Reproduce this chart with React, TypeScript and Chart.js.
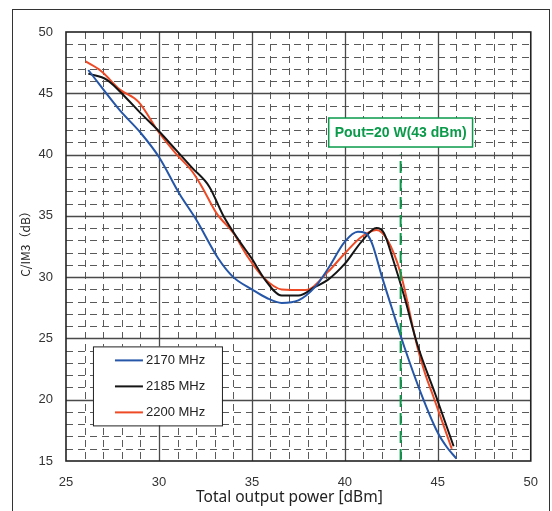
import React, { useEffect, useRef } from "react";
import { Chart, registerables } from "chart.js";

Chart.register(...registerables);

const X_MIN = 25;
const X_MAX = 50;
const Y_MIN = 15;
const Y_MAX = 50;

const seriesNames = ["2170 MHz", "2185 MHz", "2200 MHz"];
const seriesColors = ["#2556a8", "#151515", "#ee4a25"];

const x2170 = [26.2, 27.9, 29.0, 30.0, 31.1, 32.0, 33.2, 34.0, 35.0, 35.8, 36.6, 37.5, 38.4, 39.1, 40.0, 40.7, 41.1, 41.45, 42.0, 42.5, 43.2, 44.1, 45.0, 45.5, 46.0];
const y2170 = [46.9, 43.6, 41.8, 39.8, 36.8, 34.7, 31.5, 30.0, 29.0, 28.3, 27.9, 28.1, 29.2, 30.7, 32.9, 33.7, 33.6, 32.8, 30.0, 27.6, 24.3, 20.5, 17.3, 16.1, 15.2];

const x2185 = [26.2, 27.2, 28.25, 29.0, 30.0, 30.9, 31.8, 32.7, 33.5, 34.3, 35.0, 35.7, 36.6, 37.5, 38.4, 39.1, 40.0, 40.9, 41.7, 42.1, 42.6, 43.2, 43.9, 44.9, 45.85];
const y2185 = [46.6, 46.1, 44.6, 43.4, 41.9, 40.4, 38.9, 37.4, 34.9, 33.0, 31.5, 29.8, 28.5, 28.5, 29.2, 29.8, 31.1, 32.9, 34.0, 33.6, 31.4, 28.4, 24.5, 20.3, 16.2];

const x2200 = [26.05, 26.9, 27.9, 28.9, 30.0, 30.9, 31.8, 32.3, 33.1, 34.0, 34.8, 35.6, 36.6, 37.9, 39.1, 40.0, 40.9, 41.7, 42.3, 43.0, 43.9, 44.3, 44.75, 45.75];
const y2200 = [47.6, 46.8, 45.3, 44.3, 41.8, 40.1, 38.6, 37.4, 35.2, 33.6, 31.6, 30.0, 29.0, 28.95, 30.45, 31.95, 33.3, 33.85, 33.0, 30.3, 24.3, 22.2, 20.3, 16.0];

const markerX = [43, 43];
const markerY = [15, 40];
const markerLabel = "Pout=20 W(43 dBm)";
const markerLabelY = 41.8;
const markerColor = "#0a9a4a";

const xTitle = "Total output power [dBm]";
const yTitle = "C/IM3（dB）";

const toPts = (xs: number[], ys: number[]) => xs.map((x, i) => ({ x, y: ys[i] }));

const overlayPlugin = {
  id: "overlay",
  beforeDatasetsDraw(chart: any) {
    const { ctx, chartArea, scales } = chart;
    const { left, right, top, bottom } = chartArea;
    const xs = scales.x;
    const ys = scales.y;
    ctx.save();
    ctx.strokeStyle = "#5a5a5a";
    ctx.lineWidth = 1;
    ctx.setLineDash([7, 5]);
    for (let v = X_MIN + 1; v < X_MAX; v++) {
      if (v % 5 === 0) continue;
      const px = Math.round(xs.getPixelForValue(v)) + 0.5;
      ctx.beginPath();
      ctx.moveTo(px, top);
      ctx.lineTo(px, bottom);
      ctx.stroke();
    }
    for (let v = Y_MIN + 1; v < Y_MAX; v++) {
      if (v % 5 === 0) continue;
      const py = Math.round(ys.getPixelForValue(v)) + 0.5;
      ctx.beginPath();
      ctx.moveTo(left, py);
      ctx.lineTo(right, py);
      ctx.stroke();
    }
    ctx.setLineDash([]);
    ctx.strokeStyle = "#4a4a4a";
    ctx.lineWidth = 1.3;
    for (let v = X_MIN + 5; v < X_MAX; v += 5) {
      const px = Math.round(xs.getPixelForValue(v)) + 0.5;
      ctx.beginPath();
      ctx.moveTo(px, top);
      ctx.lineTo(px, bottom);
      ctx.stroke();
    }
    for (let v = Y_MIN + 5; v < Y_MAX; v += 5) {
      const py = Math.round(ys.getPixelForValue(v)) + 0.5;
      ctx.beginPath();
      ctx.moveTo(left, py);
      ctx.lineTo(right, py);
      ctx.stroke();
    }
    ctx.restore();
  },
  afterDatasetsDraw(chart: any) {
    const { ctx, chartArea, scales } = chart;
    const { left, right, top, bottom } = chartArea;
    const xs = scales.x;
    const ys = scales.y;
    ctx.save();
    ctx.strokeStyle = "#222";
    ctx.lineWidth = 1.6;
    ctx.strokeRect(left, top, right - left, bottom - top);

    // annotation box
    ctx.font = "bold 14px 'Liberation Sans', Arial, sans-serif";
    const tw = ctx.measureText(markerLabel).width;
    const cx = xs.getPixelForValue(markerX[0]);
    const cy = ys.getPixelForValue(markerLabelY);
    const bw = tw + 12;
    const bh = 29;
    ctx.fillStyle = "#fff";
    ctx.fillRect(cx - bw / 2, cy - bh / 2, bw, bh);
    ctx.strokeStyle = markerColor;
    ctx.lineWidth = 1.5;
    ctx.strokeRect(cx - bw / 2, cy - bh / 2, bw, bh);
    ctx.fillStyle = markerColor;
    ctx.textAlign = "center";
    ctx.textBaseline = "middle";
    ctx.fillText(markerLabel, cx, cy + 1);

    // legend
    const lx = xs.getPixelForValue(26.45);
    const ly = ys.getPixelForValue(24.35);
    const lw = 129;
    const lh = 79;
    ctx.fillStyle = "#fff";
    ctx.fillRect(lx, ly, lw, lh);
    ctx.strokeStyle = "#222";
    ctx.lineWidth = 1;
    ctx.strokeRect(lx + 0.5, ly + 0.5, lw, lh);
    ctx.font = "13px 'Liberation Sans', Arial, sans-serif";
    ctx.textAlign = "left";
    ctx.textBaseline = "middle";
    seriesNames.forEach((name, i) => {
      const ry = ly + 14 + i * 26;
      ctx.strokeStyle = seriesColors[i];
      ctx.lineWidth = 2;
      ctx.beginPath();
      ctx.moveTo(lx + 22, ry);
      ctx.lineTo(lx + 50, ry);
      ctx.stroke();
      ctx.fillStyle = "#222";
      ctx.fillText(name, lx + 53, ry);
    });

    // axis titles
    ctx.fillStyle = "#222";
    ctx.font = "15.5px 'Noto Sans', sans-serif";
    ctx.textAlign = "center";
    ctx.textBaseline = "middle";
    ctx.fillText(xTitle, (left + right) / 2 - 9, 498);
    ctx.save();
    ctx.translate(25, 241);
    ctx.rotate(-Math.PI / 2);
    ctx.font = "12px 'Noto Sans CJK JP', sans-serif";
    ctx.fillText(yTitle, 0, 0);
    ctx.restore();
    ctx.restore();
  },
};

export default function App() {
  const ref = useRef<HTMLCanvasElement>(null);
  useEffect(() => {
    if (!ref.current) return;
    const mk = (i: number, xs: number[], ys: number[]) => ({
      label: seriesNames[i],
      data: toPts(xs, ys),
      borderColor: seriesColors[i],
      backgroundColor: seriesColors[i],
      borderWidth: 2,
      pointRadius: 0,
      cubicInterpolationMode: "monotone",
      fill: false,
      order: 1,
    });
    const chart = new Chart(ref.current, {
      type: "line",
      data: {
        datasets: [
          mk(0, x2170, y2170),
          mk(1, x2185, y2185),
          mk(2, x2200, y2200),
          {
            label: "marker",
            data: toPts(markerX, markerY),
            borderColor: markerColor,
            borderWidth: 2,
            borderDash: [12, 6],
            pointRadius: 0,
            fill: false,
            order: 0,
          } as any,
        ],
      },
      options: {
        animation: false,
        responsive: false,
        layout: { padding: { left: 0, right: 19, top: 32, bottom: 0 } },
        plugins: { legend: { display: false }, tooltip: { enabled: false } },
        scales: {
          x: {
            type: "linear",
            min: X_MIN,
            max: X_MAX,
            grid: { display: false, drawTicks: false },
            border: { display: false },
            ticks: {
              stepSize: 5,
              padding: 14,
              color: "#333",
              font: { family: "'Liberation Sans', Arial, sans-serif", size: 13 },
              maxRotation: 0,
              autoSkip: false,
            },
            afterFit: (s: any) => {
              s.height = 50;
            },
          },
          y: {
            type: "linear",
            min: Y_MIN,
            max: Y_MAX,
            grid: { display: false, drawTicks: false },
            border: { display: false },
            ticks: {
              stepSize: 5,
              padding: 13,
              color: "#333",
              font: { family: "'Liberation Sans', Arial, sans-serif", size: 13 },
              autoSkip: false,
            },
            afterFit: (s: any) => {
              s.width = 66;
            },
          },
        },
      },
      plugins: [overlayPlugin],
    } as any);
    return () => chart.destroy();
  }, []);
  return (
    <div style={{ position: "fixed", left: 0, top: 0, width: 552, height: 511, background: "#fff", overflow: "hidden" }}>
      <canvas ref={ref} width={552} height={511} style={{ position: "absolute", left: 0, top: 0 }} />
      <div
        style={{
          position: "absolute",
          left: 12,
          top: 9,
          width: 536,
          height: 560,
          border: "1.5px solid #333",
          pointerEvents: "none",
        }}
      />
    </div>
  );
}
